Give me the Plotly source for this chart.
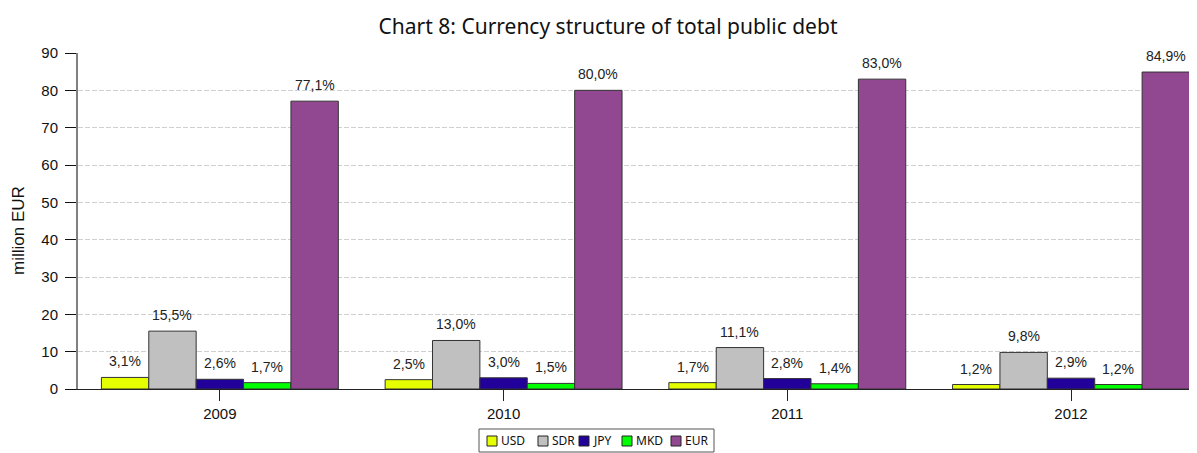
import plotly.graph_objects as go

years = ["2009", "2010", "2011", "2012"]
series_names = ["USD", "SDR", "JPY", "MKD", "EUR"]
usd = [3.1, 2.5, 1.7, 1.2]
sdr = [15.5, 13.0, 11.1, 9.8]
jpy = [2.6, 3.0, 2.8, 2.9]
mkd = [1.7, 1.5, 1.4, 1.2]
eur = [77.1, 80.0, 83.0, 84.9]
y_ticks = [0, 10, 20, 30, 40, 50, 60, 70, 80, 90]

series_values = [usd, sdr, jpy, mkd, eur]
colors = ["#E5FF00", "#C0C0C0", "#22009A", "#00FF00", "#924891"]

# the page body has an 8px margin; compensate so the figure lands where the reference is
OFF = 8
W, H = 1197 - OFF, 453 - OFF
ML, MR, MT, MB = 78 - OFF, 0, 53 - OFF, 64
PW = W - ML - MR
PH = H - MT - MB
BARGAP = 0.165


def px_x(px):
    return (px - OFF - ML) / PW


def px_y(py):
    return (H - MB - (py - OFF)) / PH


fig = go.Figure()
for name, vals, col in zip(series_names, series_values, colors):
    fig.add_trace(go.Bar(
        x=years, y=vals, name=name,
        marker=dict(color=col, line=dict(color="#333333", width=1)),
        showlegend=False,
    ))

annotations = []
nser = len(series_names)
bw = (1 - BARGAP) / nser
for si, vals in enumerate(series_values):
    for ci, v in enumerate(vals):
        annotations.append(dict(
            x=ci + (si - (nser - 1) / 2) * bw, y=v, xref="x", yref="y",
            text=("%.1f%%" % v).replace(".", ","),
            showarrow=False, yanchor="bottom", yshift=6,
            font=dict(family="Liberation Sans, Arial", size=14, color="#222222"),
        ))

# y-axis title
annotations.append(dict(
    x=px_x(18), y=px_y(231), xref="paper", yref="paper",
    xanchor="center", yanchor="middle",
    text="million EUR", textangle=-90, showarrow=False,
    font=dict(family="Liberation Sans, Arial", size=17, color="#111111"),
))

# manual legend
shapes = []
shapes.append(dict(type="rect", xref="paper", yref="paper",
                   x0=px_x(479), x1=px_x(714), y0=px_y(452), y1=px_y(429),
                   line=dict(color="#555555", width=1), fillcolor="white"))
sq_x = [487, 538, 579, 622, 671]
for name, col, sx in zip(series_names, colors, sq_x):
    shapes.append(dict(type="rect", xref="paper", yref="paper",
                       x0=px_x(sx), x1=px_x(sx + 10), y0=px_y(446), y1=px_y(436),
                       line=dict(color="#222222", width=1), fillcolor=col))
    annotations.append(dict(
        x=px_x(sx + 12), y=px_y(441), xref="paper", yref="paper",
        text=name, showarrow=False, xanchor="left", yanchor="middle",
        font=dict(family="Noto Sans, Open Sans", size=12, color="#111111"),
    ))

fig.update_layout(
    width=W, height=H,
    margin=dict(l=ML, r=MR, t=MT, b=MB, pad=0),
    paper_bgcolor="white", plot_bgcolor="white",
    barmode="group", bargap=BARGAP, bargroupgap=0,
    title=dict(text="Chart 8: Currency structure of total public debt",
               xref="paper", x=px_x(608), xanchor="center",
               yref="container", y=1 - (27 - OFF) / H, yanchor="middle",
               font=dict(family="Noto Sans, Open Sans", size=21, color="#111111")),
    annotations=annotations,
    shapes=shapes,
    xaxis=dict(
        type="category", range=[-0.5, 3.444],
        showline=True, linecolor="#222222", linewidth=1,
        ticks="outside", ticklen=11, tickcolor="#222222", tickwidth=1,
        tickfont=dict(family="Liberation Sans, Arial", size=15, color="#111111"),
        showgrid=False, zeroline=False,
    ),
    yaxis=dict(
        range=[0, 90], tickvals=y_ticks,
        showline=True, linecolor="#808080", linewidth=2,
        ticks="outside", ticklen=11, tickcolor="#111111", tickwidth=1,
        ticklabelstandoff=4,
        tickfont=dict(family="Liberation Sans, Arial", size=15, color="#111111"),
        showgrid=True, gridcolor="#D0D0D0", gridwidth=1, griddash="5px,2px",
        zeroline=False,
    ),
)

fig.write_html("out.html")
